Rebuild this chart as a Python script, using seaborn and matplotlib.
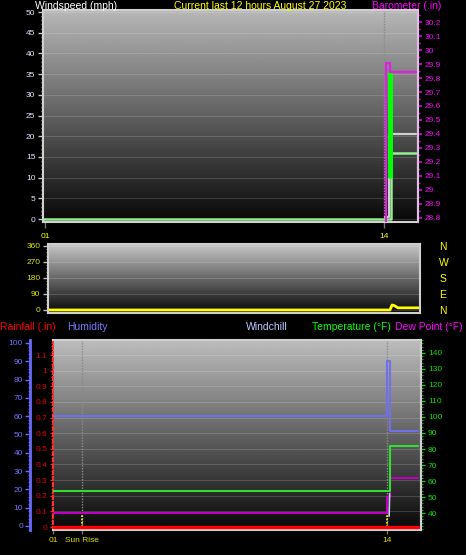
import numpy as np
import matplotlib
matplotlib.use("Agg")
import matplotlib.pyplot as plt
import seaborn as sns
from matplotlib.ticker import MultipleLocator

# x values are clock hours ("01" .. "14")
wind_hours = [0.92, 14.27, 15.22]
wind_mph = [0, 16, 16]
avg_hours = [14.05, 14.2, 15.22]
avg_mph = [0.5, 20.5, 20.5]
gust_hours = [14.21]
gust_low = [10]
gust_high = [35.5]
baro_hours = [14.08, 14.08, 14.23, 15.22]
baro_in = [28.6, 29.91, 29.84, 29.84]

dir_hours = [0.92, 14.14, 14.22, 14.3, 14.45, 15.3]
dir_deg = [0, 0, 28, 25, 12, 12]

hum_hours = [1.0, 14.0, 14.12, 15.2]
hum_pct = [60, 90, 52, 52]
temp_hours = [1.0, 14.13, 15.2]
temp_f = [54, 82, 82]
dew_hours = [1.0, 14.0, 14.13, 15.2]
dew_f = [40, 50, 62, 62]
chill_hours = [14.08, 14.1]
chill_f = [38, 52]
rain_hours = [1.0, 15.2]
rain_in = [0, 0]
sunrise_hour = 2.13

speed_ticks = list(range(0, 51, 5))
baro_ticks = [round(28.8 + 0.1 * i, 1) for i in range(15)]
dir_ticks = [0, 90, 180, 270, 360]
compass = ["N", "E", "S", "W", "N"]
rain_ticks = [round(0.1 * i, 1) for i in range(12)]
hum_ticks = list(range(0, 101, 10))
temp_ticks = list(range(40, 141, 10))

sns.set_style("ticks")
plt.rcParams["font.family"] = ["Liberation Sans", "DejaVu Sans"]

W, H = 466, 555
fig = plt.figure(figsize=(W / 100, H / 100), dpi=100, facecolor="black")


def box(left, top, right, bottom):
    return [left / W, 1 - bottom / H, (right - left) / W, (bottom - top) / H]


def backdrop(ax, top_shade):
    grad = np.linspace(top_shade, 0.03, 256).reshape(-1, 1)
    ax.imshow(grad, extent=[0, 1, 0, 1], transform=ax.transAxes, aspect="auto",
              cmap="gray", vmin=0, vmax=1, zorder=0)
    ax.set_axisbelow(True)
    ax.grid(axis="y", color="#ffffff", lw=0.6, ls="-", alpha=0.18)
    ax.grid(axis="x", visible=False)


def steps(ax, x, y, color, lw, style="steps-post"):
    sns.lineplot(x=x, y=y, ax=ax, color=color, lw=lw, drawstyle=style,
                 estimator=None, sort=False, legend=False)


fmt = lambda v: f"{v:g}"
tsize = 6

###############################################################
#   top panel: windspeed + barometer
###############################################################
ax_top = fig.add_axes(box(43, 10, 418, 222))
backdrop(ax_top, 0.72)
ax_top.axvline(14, color="#8a8a8a", ls=(0, (1, 1)), lw=1, zorder=1)
steps(ax_top, wind_hours, wind_mph, "#90f090", 1.8)
steps(ax_top, avg_hours, avg_mph, "#d0d0d0", 1.6)
ax_top.vlines(gust_hours, gust_low, gust_high, color="#00ff00", lw=3.6, zorder=3)
ax_top.set_xlim(0.92, 15.3)
ax_top.set_ylim(-0.7, 50.5)
ax_top.set_yticks(speed_ticks)
ax_top.set_yticklabels([str(v) for v in speed_ticks])
ax_top.yaxis.set_minor_locator(MultipleLocator(1))
ax_top.tick_params(axis="y", which="major", colors="#c8c8c8", labelcolor="#dde4ff",
                   labelsize=tsize, length=3.5, width=1, pad=2)
ax_top.tick_params(axis="y", which="minor", colors="#a0a0a0", length=1.8, width=1)
ax_top.set_xticks([1, 14])
ax_top.set_xticklabels(["01", "14"])
ax_top.tick_params(axis="x", colors="#707070", labelcolor="#ffff00", labelsize=tsize,
                   length=4, width=1, pad=4)
for side in ["left", "top", "bottom", "right"]:
    ax_top.spines[side].set_color("#d0d0d0")
    ax_top.spines[side].set_linewidth(1.5)
ax_top.set_xlabel("")
ax_top.set_ylabel("")

ax_baro = ax_top.twinx()
steps(ax_baro, baro_hours, baro_in, "#e020e0", 1.6)
ax_baro.set_ylim(28.771, 30.286)
ax_baro.set_yticks(baro_ticks)
ax_baro.set_yticklabels([fmt(v) for v in baro_ticks])
ax_baro.tick_params(axis="y", colors="#e000e0", labelcolor="#ff00ff", labelsize=tsize,
                    length=3, width=1.2, pad=2)
ax_baro.yaxis.set_minor_locator(MultipleLocator(0.05))
ax_baro.tick_params(axis="y", which="minor", colors="#e000e0", length=1.5, width=1)
ax_baro.spines["right"].set_color("#e0c0e0")
ax_baro.spines["right"].set_linewidth(1.5)
for side in ["left", "top", "bottom"]:
    ax_baro.spines[side].set_visible(False)
ax_baro.set_xlabel("")
ax_baro.set_ylabel("")

###############################################################
#   middle panel: wind direction
###############################################################
ax_dir = fig.add_axes(box(48, 244, 420, 313))
backdrop(ax_dir, 0.78)
steps(ax_dir, dir_hours, dir_deg, "#ffff00", 2.0, style="default")
ax_dir.set_xlim(0.92, 15.3)
ax_dir.set_ylim(-17, 371)
ax_dir.set_yticks(dir_ticks)
ax_dir.set_yticklabels([str(v) for v in dir_ticks])
ax_dir.yaxis.set_minor_locator(MultipleLocator(18))
ax_dir.tick_params(axis="y", colors="#c0c0c0", labelcolor="#e0e000", labelsize=tsize,
                   length=3.5, width=1, pad=2)
ax_dir.tick_params(axis="y", which="minor", colors="#a0a0a0", length=1.8)
ax_dir.set_xticks([])
for side in ["left", "top", "bottom", "right"]:
    ax_dir.spines[side].set_color("#d0d0d0")
    ax_dir.spines[side].set_linewidth(1.5)
ax_dir.set_xlabel("")
ax_dir.set_ylabel("")

ax_cmp = ax_dir.twinx()
ax_cmp.set_ylim(-17, 371)
ax_cmp.set_yticks(dir_ticks)
ax_cmp.set_yticklabels(compass)
ax_cmp.tick_params(axis="y", length=0, labelcolor="#ffff00", labelsize=7.5, pad=14)
for side in ["left", "top", "bottom", "right"]:
    ax_cmp.spines[side].set_visible(False)

###############################################################
#   bottom panel: rain, humidity, temperature
###############################################################
ax_rain = fig.add_axes(box(53, 340, 421, 530))
backdrop(ax_rain, 0.74)
ax_rain.axvline(sunrise_hour, color="#8a8a8a", ls=(0, (1, 1)), lw=1, zorder=1)
ax_rain.axvline(14, color="#8a8a8a", ls=(0, (1, 1)), lw=1, zorder=1)
ax_rain.vlines([sunrise_hour, 14], 0, 0.1, color="#ffff00", ls=(0, (1, 1)), lw=1.2, zorder=2)
ax_rain.set_xlim(1.0, 15.32)
ax_rain.set_ylim(-0.019, 1.196)
ax_rain.set_yticks(rain_ticks)
ax_rain.set_yticklabels([fmt(v) for v in rain_ticks])
ax_rain.yaxis.set_minor_locator(MultipleLocator(0.02))
ax_rain.tick_params(axis="y", colors="#ff2020", labelcolor="#e00000", labelsize=tsize,
                    length=2.5, width=1, pad=1.5)
ax_rain.tick_params(axis="y", which="minor", colors="#ff2020", length=1.2)
ax_rain.set_xticks([1, sunrise_hour, 14])
ax_rain.set_xticklabels(["01", "Sun Rise", "14"])
ax_rain.tick_params(axis="x", colors="#707070", labelcolor="#e0e000", labelsize=tsize,
                    length=3, width=1, pad=2)
for side in ["top", "bottom", "right"]:
    ax_rain.spines[side].set_color("#d0d0d0")
    ax_rain.spines[side].set_linewidth(1.5)
ax_rain.spines["left"].set_color("#ff3030")
ax_rain.spines["left"].set_linestyle((0, (1.5, 1.5)))
ax_rain.spines["left"].set_linewidth(1.5)
ax_rain.set_xlabel("")
ax_rain.set_ylabel("")

ax_hum = ax_rain.twinx()
steps(ax_hum, hum_hours, hum_pct, "#7070e8", 1.5)
ax_hum.set_ylim(-2.2, 101.6)
ax_hum.yaxis.set_ticks_position("left")
ax_hum.yaxis.set_label_position("left")
ax_hum.spines["left"].set_visible(True)
ax_hum.spines["left"].set_position(("axes", -0.0625))
ax_hum.spines["left"].set_color("#6a6aff")
ax_hum.spines["left"].set_linewidth(2)
ax_hum.set_yticks(hum_ticks)
ax_hum.set_yticklabels([str(v) for v in hum_ticks])
ax_hum.yaxis.set_minor_locator(MultipleLocator(2))
ax_hum.tick_params(axis="y", colors="#6a6aff", labelcolor="#7070ff", labelsize=tsize,
                   length=3.5, width=1, pad=1.5)
ax_hum.tick_params(axis="y", which="minor", colors="#6a6aff", length=1.8)
for side in ["top", "bottom", "right"]:
    ax_hum.spines[side].set_visible(False)
ax_hum.set_ylabel("")

ax_temp = ax_rain.twinx()
steps(ax_temp, dew_hours, dew_f, "#c000c0", 1.5)
steps(ax_temp, chill_hours, chill_f, "#c8c8f0", 1.2, style="default")
steps(ax_temp, temp_hours, temp_f, "#30e030", 1.5)
ax_temp.set_ylim(29.4, 148.1)
ax_temp.set_yticks(temp_ticks)
ax_temp.set_yticklabels([str(v) for v in temp_ticks])
ax_temp.yaxis.set_minor_locator(MultipleLocator(2))
ax_temp.tick_params(axis="y", colors="#20c020", labelcolor="#00e000", labelsize=tsize,
                    length=3, width=1, pad=2)
ax_temp.tick_params(axis="y", which="minor", colors="#20c020", length=1.5)
ax_temp.spines["right"].set_color("#d0d0d0")
ax_temp.spines["right"].set_linewidth(1.5)
for side in ["left", "top", "bottom"]:
    ax_temp.spines[side].set_visible(False)
ax_temp.set_ylabel("")

# rain drawn last so the thick red line sits on top
ax_rain2 = ax_rain.twinx()
ax_rain2.set_ylim(-0.019, 1.196)
steps(ax_rain2, rain_hours, rain_in, "#ff0000", 2.4)
ax_rain2.set_yticks([])
ax_rain2.set_ylabel("")
for side in ["left", "top", "bottom", "right"]:
    ax_rain2.spines[side].set_visible(False)

###############################################################
#   header texts
###############################################################
def label(x, y, s, color, size=7.5, ha="left"):
    fig.text(x / W, 1 - y / H, s, color=color, fontsize=size, ha=ha, va="center")


label(35, 6, "Windspeed (mph)", "#ffffff")
label(260, 6, "Current last 12 hours August 27 2023", "#ffff00", ha="center")
label(372, 6, "Barometer (.in)", "#ff00ff")

label(0, 327, "Rainfall (.in)", "#ff0000")
label(67, 327, "Humidity", "#7878ff")
label(246, 327, "Windchill", "#c0c8ff")
label(312, 327, "Temperature (°F)", "#00ff00")
label(395, 327, "Dew Point (°F)", "#ff00ff")

fig.savefig("out.png", dpi=100, facecolor="black")
